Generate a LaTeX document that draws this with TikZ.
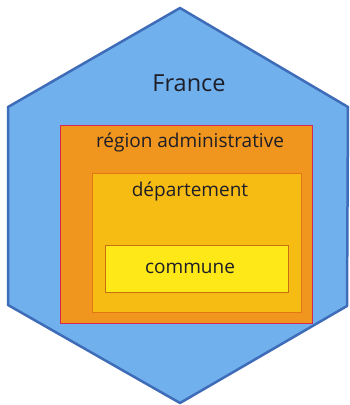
\documentclass[tikz,border=0pt]{standalone}
\usepackage{fontspec}
\setmainfont{Open Sans}
\definecolor{hexfill}{RGB}{112,176,236}
\definecolor{hexline}{RGB}{62,108,184}
\definecolor{regfill}{RGB}{240,150,30}
\definecolor{regline}{RGB}{214,40,80}
\definecolor{depfill}{RGB}{246,188,20}
\definecolor{depline}{RGB}{226,120,20}
\definecolor{comfill}{RGB}{255,232,24}
\definecolor{comline}{RGB}{200,110,20}
\definecolor{txt}{RGB}{30,30,40}
\begin{document}
\begin{tikzpicture}[x=1pt,y=-1pt,
  lbl/.style={text=txt,inner sep=0pt,font=\fontsize{19}{22}\selectfont}]
\useasboundingbox (0,0) rectangle (350,405);
\fill[white] (0,0) rectangle (350,405);
\draw[hexline,fill=hexfill,line width=2.5pt,line join=round]
  (180,8) -- (348,107) -- (347,306) -- (180,403) -- (8,305) -- (8,107) -- cycle;
\draw[regline,fill=regfill,line width=0.8pt] (60,125) rectangle (312,323);
\draw[depline,fill=depfill,line width=0.8pt] (92,173) rectangle (301,312);
\draw[comline,fill=comfill,line width=0.8pt] (105,245) rectangle (288,292);
\node[lbl,font=\fontsize{23.5}{26}\selectfont] (france) at (189,83) {France};
\node[lbl] (region) at (190,142) {région administrative};
\node[lbl] (dep) at (190,192) {département};
\node[lbl] (com) at (190,268) {commune};
\end{tikzpicture}
\end{document}
